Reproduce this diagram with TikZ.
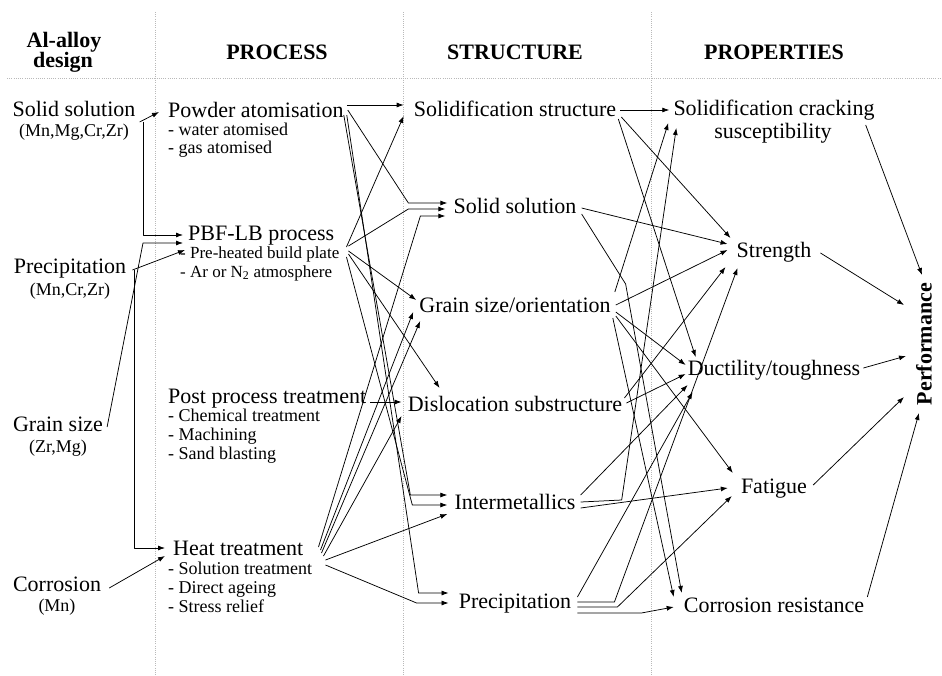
\documentclass[tikz,border=0pt]{standalone}
\usepackage{fontspec}
\setmainfont{Liberation Serif}
\usepackage{tikz}
\usetikzlibrary{arrows.meta,calc}
\usetikzlibrary{positioning}
\tikzset{lbl/.style={inner sep=0pt,font=\fontsize{22}{24}\selectfont},
  sub/.style={inner sep=0pt,font=\fontsize{18}{20}\selectfont},
  head/.style={inner sep=0pt,font=\fontsize{22}{24}\selectfont\bfseries},
  sepline/.style={gray!55,line width=0.6pt,dash pattern=on 1pt off 1.2pt},
  lnk/.style={->,line width=0.75pt}}

\begin{document}
\begin{tikzpicture}[x=1pt,y=-1pt,>={Latex[length=7pt,width=5pt]},line join=round]
\useasboundingbox (0,0) rectangle (942,675);
% --- column separators
\draw[sepline] (7,78) -- (942,78);
\foreach \x in {155,403,651} \draw[sepline] (\x,12) -- (\x,675);
% --- headers
\node[head,anchor=base] (hDesign) at (64,47) {Al-alloy}; \node[head,anchor=base] (hDesignB) at (63,67) {design};
\node[head,anchor=base] (hProc) at (277,59) {PROCESS};
\node[head,anchor=base] (hStruct) at (515,59) {STRUCTURE};
\node[head,anchor=base] (hProp) at (774,59) {PROPERTIES};
% --- Al-alloy design
\node[lbl,anchor=base] (dSol) at (74,116) {Solid solution}; \node[sub,anchor=base] (dSolE) at (74,136) {(Mn,Mg,Cr,Zr)};
\node[lbl,anchor=base] (dPrec) at (70,273) {Precipitation}; \node[sub,anchor=base] (dPrecE) at (70,295) {(Mn,Cr,Zr)};
\node[lbl,anchor=base] (dGrain) at (58,431) {Grain size}; \node[sub,anchor=base] (dGrainE) at (58,452) {(Zr,Mg)};
\node[lbl,anchor=base] (dCorr) at (57,591) {Corrosion}; \node[sub,anchor=base] (dCorrE) at (57,611) {(Mn)};
% --- process
\node[lbl,anchor=base west] (pPowder) at (168,117) {Powder atomisation};
\foreach \t [count=\i] in {water atomised,gas atomised}
  \node[sub,anchor=base west] (pPowder\i) at (168,{117+18*\i}) {- \t};
\node[lbl,anchor=base west] (pPbf) at (188,240) {PBF-LB process};
\foreach \t [count=\i] in {Pre-heated build plate,{Ar or N\textsubscript{2} atmosphere}}
  \node[sub,font=\fontsize{17}{19}\selectfont,anchor=base west] (pPbf\i) at (180,{240+18.5*\i}) {- \t};
\node[lbl,anchor=base west] (pPost) at (168,403) {Post process treatment};
\foreach \t [count=\i] in {Chemical treatment,Machining,Sand blasting}
  \node[sub,anchor=base west] (pPost\i) at (168,{403+18.7*\i}) {- \t};
\node[lbl,anchor=base west] (pHeat) at (173,555) {Heat treatment};
\foreach \t [count=\i] in {Solution treatment,Direct ageing,Stress relief}
  \node[sub,anchor=base west] (pHeat\i) at (168,{556+18.7*\i}) {- \t};
% --- structure
\node[lbl,anchor=base] (sSolid) at (515,116) {Solidification structure};
\node[lbl,anchor=base] (sSolsol) at (515,213) {Solid solution};
\node[lbl,anchor=base] (sGrain) at (515,312) {Grain size/orientation};
\node[lbl,anchor=base] (sDisl) at (515,411) {Dislocation substructure};
\node[lbl,anchor=base] (sInter) at (515,509) {Intermetallics};
\node[lbl,anchor=base] (sPrec) at (515,608) {Precipitation};
% --- properties
\node[lbl,anchor=base] (qCrack) at (774,115) {Solidification cracking}; \node[lbl,anchor=base] (qCrackB) at (773,138) {susceptibility};
\node[lbl,anchor=base] (qStr) at (774,257) {Strength};
\node[lbl,anchor=base] (qDuct) at (774,375) {Ductility/toughness};
\node[lbl,anchor=base] (qFat) at (774,493) {Fatigue};
\node[lbl,anchor=base] (qCorr) at (774,612) {Corrosion resistance};
\node[head,rotate=90] (perf) at (924,344) {Performance};
% --- design -> process
\draw[lnk] ($(dSol.base east)+(4,6)$) -- ($(pPowder.base west)+(-9,-5)$);
\draw[lnk] ($(dSol.base east)+(8,6)$) |- ($(pPbf.base west)+(-5,-5)$);
\draw[lnk] ($(dPrec.base east)+(6,-3)$) -- ($(pPbf.base west)+(-3,10)$);
\draw[lnk] ($(dPrec.base east)+(8,-3)$) |- ($(pHeat.base west)+(-8,-7)$);
\draw[lnk] ($(dGrain.base east)+(4,-4)$) -- ($(pPbf.base west)+(-45,3)$) -- ($(pPbf.base west)+(-5,3)$);
\draw[lnk] ($(dCorr.base east)+(8,-3)$) -- ($(pHeat.base west)+(-8,1)$);
% --- process -> structure
\draw[lnk] ($(pPowder.base east)+(3,-12)$) -- ($(sSolid.base west)+(-10,-11)$);
\draw[lnk] ($(pPowder.base east)+(4,-7)$) -- ($(sSolsol.base west)+(-45,-10)$) -- ($(sSolsol.base west)+(-6,-10)$);
\draw[lnk] ($(pPowder.base east)+(0,-2)$) -- ($(sInter.base west)+(-44,-14)$) -- ($(sInter.base west)+(-7,-14)$);
\draw[lnk] ($(pPowder.base east)+(3,-2)$) -- ($(sPrec.base west)+(-40,-15)$) -- ($(sPrec.base west)+(-10,-15)$);
\draw[lnk] ($(pPbf.base east)+(12,7)$) -- ($(sSolid.base west)+(-10,0)$);
\draw[lnk] ($(pPbf.base east)+(14,6)$) -- ($(sSolsol.base west)+(-45,-4)$) -- ($(sSolsol.base west)+(-8,-4)$);
\draw[lnk] ($(pPbf.base east)+(14,11)$) -- ($(sGrain.base west)+(-3,-12)$);
\draw[lnk] ($(pPbf.base east)+(14,14)$) -- ($(sDisl.base west)+(32,-23)$);
\draw[lnk] ($(pPbf.base east)+(12,17)$) -- ($(sInter.base west)+(-42,-4)$) -- ($(sInter.base west)+(-7,-4)$);
\draw[lnk] ($(pPost.base east)+(4,-1)$) -- ($(sDisl.base west)+(-6,-9)$);
\draw[lnk] ($(pHeat.base east)+(15,-8)$) -- ($(sSolsol.base west)+(-33,3)$) -- ($(sSolsol.base west)+(-8,3)$);
\draw[lnk] ($(pHeat.base east)+(17,-5)$) -- ($(sGrain.base west)+(-6,0)$);
\draw[lnk] ($(pHeat.base east)+(18,-2)$) -- ($(sGrain.base west)+(1,9)$);
\draw[lnk] ($(pHeat.base east)+(20,1)$) -- ($(sDisl.base west)+(-6,5)$);
\draw[lnk] ($(pHeat.base east)+(22,5)$) -- ($(sInter.base west)+(-7,5)$);
\draw[lnk] ($(pHeat.base east)+(22,10)$) -- ($(sPrec.base west)+(-42,-5)$) -- ($(sPrec.base west)+(-10,-5)$);
% --- structure -> properties
\draw[lnk] ($(sSolid.base east)+(4,-6)$) -- ($(qCrack.base west)+(-4,-5)$);
\draw[lnk] ($(sSolid.base east)+(5,1)$) -- ($(qStr.base west)+(-6,-19)$);
\draw[lnk] ($(sSolid.base east)+(2,3)$) -- ($(qDuct.base west)+(8,-18)$);
\draw[lnk] ($(sSolsol.base east)+(5,-5)$) -- ($(qStr.base west)+(-9,-13)$);
\draw[lnk] ($(sSolsol.base east)+(5,1)$) -- ($(sSolsol.base east)+(49,71)$) -- ($(qCorr.base west)+(-2,-19)$);
\draw[lnk] ($(sGrain.base east)+(4,-20)$) -- ($(qCrack.base west)+(-5,8)$);
\draw[lnk] ($(sGrain.base east)+(5,-7)$) -- ($(qStr.base west)+(-9,-7)$);
\draw[lnk] ($(sGrain.base east)+(5,0)$) -- ($(qDuct.base west)+(-2,-10)$);
\draw[lnk] ($(sGrain.base east)+(5,4)$) -- ($(qFat.base west)+(-8,-20)$);
\draw[lnk] ($(sGrain.base east)+(2,6)$) -- ($(qCorr.base west)+(-10,-15)$);
\draw[lnk] ($(sDisl.base east)+(2,-13)$) -- ($(qStr.base west)+(-11,10)$);
\draw[lnk] ($(sDisl.base east)+(4,-8)$) -- ($(qDuct.base west)+(-2,-1)$);
\draw[lnk] ($(sInter.base east)+(5,-14)$) -- ($(qDuct.base west)+(0,10)$);
\draw[lnk] ($(sInter.base east)+(5,-7)$) -- ($(sInter.base east)+(46,-9)$) -- ($(qCrack.base west)+(3,13)$);
\draw[lnk] ($(sInter.base east)+(5,-1)$) -- ($(qFat.base west)+(-13,-5)$);
\draw[lnk] ($(sPrec.base east)+(6,-11)$) -- ($(qDuct.base west)+(5,17)$);
\draw[lnk] ($(sPrec.base east)+(6,-6)$) -- ($(sPrec.base east)+(43,-6)$) -- ($(qStr.base west)+(1,11)$);
\draw[lnk] ($(sPrec.base east)+(6,-1)$) -- ($(sPrec.base east)+(46,-1)$) -- ($(qFat.base west)+(-9,3)$);
\draw[lnk] ($(sPrec.base east)+(6,5)$) -- ($(sPrec.base east)+(70,5)$) -- ($(qCorr.base west)+(-10,-5)$);
% --- properties -> performance
\draw[lnk] ($(qCrack.base east)+(-9,10)$) -- ($(perf.center)+(-2,-69)$);
\draw[lnk] ($(qStr.base east)+(9,-4)$) -- ($(perf.center)+(-20,-39)$);
\draw[lnk] ($(qDuct.base east)+(3,-7)$) -- ($(perf.center)+(-18,12)$);
\draw[lnk] ($(qFat.base east)+(6,-8)$) -- ($(perf.center)+(-20,53)$);
\draw[lnk] ($(qCorr.base east)+(3,-15)$) -- ($(perf.center)+(-5,69)$);
\end{tikzpicture}
\end{document}
